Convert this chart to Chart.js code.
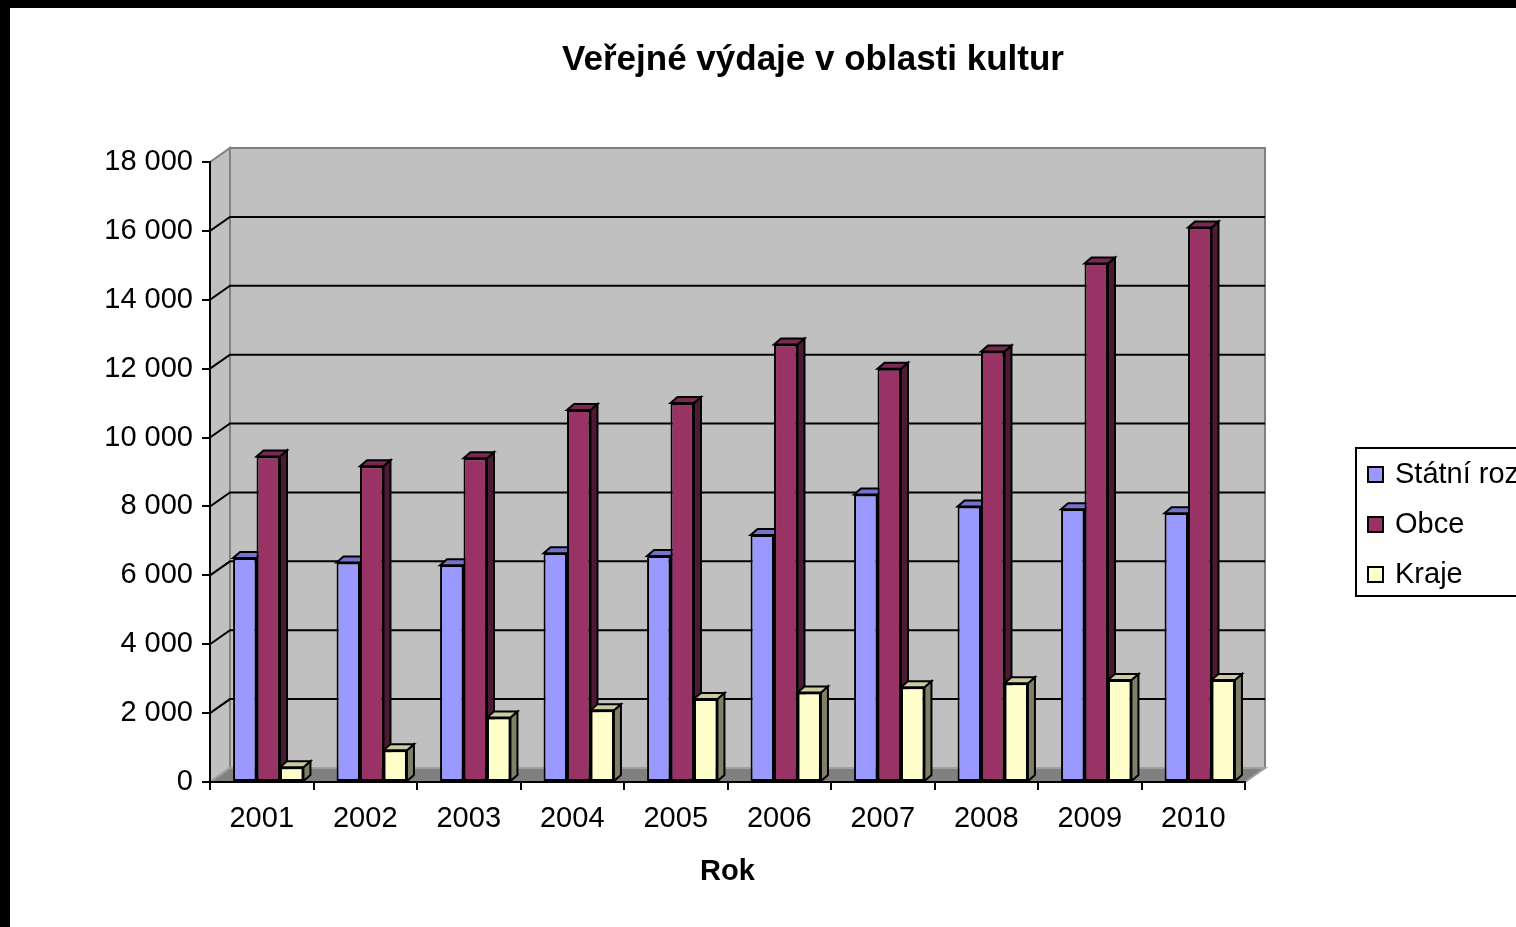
<!DOCTYPE html>
<html>
<head>
<meta charset="utf-8">
<title>Veřejné výdaje v oblasti kultur</title>
<script src="https://cdn.jsdelivr.net/npm/chart.js@4.4.1/dist/chart.umd.min.js"></script>
<style>
  html, body { margin: 0; padding: 0; background: #000; overflow: hidden; }
  #chart { position: absolute; left: 10px; top: 8px; background: #fff; }
</style>
</head>
<body>
<canvas id="chart" width="1506" height="919"></canvas>
<script>
// data
const years = ['2001', '2002', '2003', '2004', '2005', '2006', '2007', '2008', '2009', '2010'];
const statniRozpocet = [6500, 6370, 6290, 6640, 6560, 7170, 8350, 8000, 7920, 7800];
const obce = [9450, 9170, 9400, 10800, 11000, 12700, 12000, 12500, 15050, 16100];
const kraje = [430, 920, 1870, 2080, 2410, 2600, 2750, 2870, 2960, 2960];
const seriesNames = ['Státní rozpočet', 'Obce', 'Kraje'];
const yMax = 18000;
const yStep = 2000;

const frontColors = ['#9999FF', '#993366', '#FFFFCC'];
const topColors = ['#7373CC', '#7A2952', '#CCCCA3'];
const sideColors = ['#4D4D80', '#4D1A33', '#808066'];

const FONT = '"Liberation Sans", Arial, sans-serif';
const WALL = { dx: 20, dy: -14 };
const BAR = { dx: 7, dy: -6, shift: 6.5 };

function poly(ctx, pts, fill, stroke) {
    ctx.beginPath();
    ctx.moveTo(pts[0][0], pts[0][1]);
    for (let i = 1; i < pts.length; i++) ctx.lineTo(pts[i][0], pts[i][1]);
    ctx.closePath();
    if (fill) { ctx.fillStyle = fill; ctx.fill(); }
    if (stroke) { ctx.strokeStyle = stroke; ctx.stroke(); }
}

function formatThousands(v) {
    return String(v).replace(/\B(?=(\d{3})+(?!\d))/g, ' ');
}

const threeD = {
    id: 'threeD',
    beforeDraw(chart) {
        const ctx = chart.ctx;
        const a = chart.chartArea;
        const y = chart.scales.y;
        const dx = WALL.dx, dy = WALL.dy;
        ctx.save();
        ctx.lineWidth = 2;
        ctx.lineJoin = 'miter';
        // back wall
        poly(ctx, [[a.left + dx, a.top + dy], [a.right + dx, a.top + dy],
                   [a.right + dx, a.bottom + dy], [a.left + dx, a.bottom + dy]], '#C0C0C0', '#808080');
        // left wall
        poly(ctx, [[a.left, a.top], [a.left + dx, a.top + dy],
                   [a.left + dx, a.bottom + dy], [a.left, a.bottom]], '#C0C0C0', '#808080');
        // floor
        poly(ctx, [[a.left, a.bottom], [a.left + dx, a.bottom + dy],
                   [a.right + dx, a.bottom + dy], [a.right, a.bottom]], '#808080', '#A0A0A0');
        // gridlines on the walls
        ctx.strokeStyle = '#000';
        y.ticks.forEach(t => {
            if (t.value <= 0 || t.value >= yMax) return;
            const py = y.getPixelForValue(t.value);
            ctx.beginPath();
            ctx.moveTo(a.left, py);
            ctx.lineTo(a.left + dx, py + dy);
            ctx.lineTo(a.right + dx, py + dy);
            ctx.stroke();
        });
        ctx.restore();
    },
    beforeDatasetsDraw(chart) {
        const ctx = chart.ctx;
        ctx.save();
        ctx.translate(BAR.shift, 0);
        ctx.lineWidth = 2;
        ctx.lineJoin = 'miter';
        chart.data.datasets.forEach((ds, di) => {
            const meta = chart.getDatasetMeta(di);
            meta.data.forEach(el => {
                const p = el.getProps(['x', 'y', 'base', 'width'], true);
                const L = p.x - p.width / 2, R = p.x + p.width / 2, T = p.y, B = p.base;
                poly(ctx, [[R, T], [R + BAR.dx, T + BAR.dy], [R + BAR.dx, B + BAR.dy], [R, B]], sideColors[di], '#000');
                poly(ctx, [[L, T], [L + BAR.dx, T + BAR.dy], [R + BAR.dx, T + BAR.dy], [R, T]], topColors[di], '#000');
            });
        });
        ctx.restore();
    },
    beforeDatasetDraw(chart) {
        chart.ctx.save();
        chart.ctx.translate(BAR.shift, 0);
    },
    afterDatasetDraw(chart) {
        chart.ctx.restore();
    },
    afterDraw(chart) {
        const ctx = chart.ctx;
        ctx.save();
        // title
        ctx.fillStyle = '#000';
        ctx.font = 'bold 35px ' + FONT;
        ctx.textAlign = 'center';
        ctx.textBaseline = 'middle';
        ctx.fillText('Veřejné výdaje v oblasti kultur', 803, 52);
        // legend
        const lx = 1346, ly = 440;
        ctx.lineWidth = 2;
        ctx.strokeStyle = '#000';
        ctx.fillStyle = '#fff';
        ctx.fillRect(lx, ly, 320, 148);
        ctx.strokeRect(lx, ly, 320, 148);
        ctx.font = '29px ' + FONT;
        ctx.textAlign = 'left';
        seriesNames.forEach((name, i) => {
            const cy = ly + 26 + i * 50;
            ctx.fillStyle = frontColors[i];
            ctx.fillRect(lx + 12, cy - 7, 15, 15);
            ctx.strokeRect(lx + 12, cy - 7, 15, 15);
            ctx.fillStyle = '#000';
            ctx.fillText(name, lx + 39, cy + 1);
        });
        ctx.restore();
    }
};

const data = {
    labels: years,
    datasets: [statniRozpocet, obce, kraje].map((values, i) => ({
        label: seriesNames[i],
        data: values,
        backgroundColor: frontColors[i],
        borderColor: '#000',
        borderWidth: 2,
        borderSkipped: false,
        categoryPercentage: 0.68,
        barPercentage: 1.0,
        clip: false
    }))
};

const config = {
    type: 'bar',
    data,
    options: {
        responsive: false,
        animation: false,
        devicePixelRatio: 1,
        layout: { padding: { left: 0, top: 154, right: 271, bottom: 0 } },
        plugins: {
            legend: { display: false },
            title: { display: false },
            tooltip: { enabled: false }
        },
        scales: {
            x: {
                grid: { drawOnChartArea: false, drawTicks: true, tickLength: 8, color: '#000', lineWidth: 2, offset: true },
                border: { display: true, color: '#000', width: 2 },
                ticks: { color: '#000', font: { family: FONT, size: 29 }, padding: 12 },
                title: {
                    display: true, text: 'Rok', color: '#000',
                    font: { family: FONT, size: 29, weight: 'bold' },
                    padding: { top: 0, bottom: 38 }
                },
                afterFit(scale) { scale.height = 145; }
            },
            y: {
                min: 0,
                max: yMax,
                grid: { drawOnChartArea: false, drawTicks: true, tickLength: 8, color: '#000', lineWidth: 2 },
                border: { display: true, color: '#000', width: 2 },
                ticks: {
                    stepSize: yStep,
                    color: '#000',
                    font: { family: FONT, size: 29 },
                    padding: 9,
                    callback: v => formatThousands(v)
                },
                afterFit(scale) { scale.width = 200; }
            }
        }
    },
    plugins: [threeD]
};

const myChart = new Chart(document.getElementById('chart'), config);
</script>
</body>
</html>
